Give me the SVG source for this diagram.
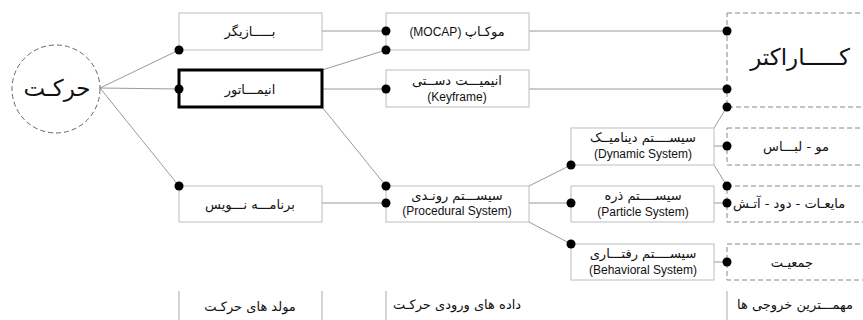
<svg xmlns="http://www.w3.org/2000/svg" width="863" height="320" viewBox="0 0 863 320">
<style>
.box{fill:#fff;stroke:#bdbdbd;stroke-width:1}
.thick{fill:#fff;stroke:#000;stroke-width:3}
.dash{fill:none;stroke:#888;stroke-width:1;stroke-dasharray:5,3}
.side{fill:none;stroke:#aaa;stroke-width:1}
.con{fill:none;stroke:#9a9a9a;stroke-width:1}
.dot{fill:#000}
text{font-family:"DejaVu Sans","Liberation Sans",sans-serif;fill:#111;text-anchor:middle}
.fa{font-size:13px}
.en{font-size:12px;font-family:"Liberation Sans",Arial,sans-serif}
.big{font-size:23px}
</style>
<rect width="863" height="320" fill="#fff"/>
<g id="connectors">
<line class="con" x1="100" y1="88" x2="179" y2="50"/>
<line class="con" x1="100" y1="88" x2="179" y2="89"/>
<line class="con" x1="100" y1="88" x2="179" y2="186"/>
<line class="con" x1="322" y1="31" x2="386" y2="31"/>
<line class="con" x1="322" y1="70" x2="386" y2="50"/>
<line class="con" x1="322" y1="89" x2="386" y2="89"/>
<line class="con" x1="322" y1="107" x2="386" y2="186"/>
<line class="con" x1="322" y1="203" x2="386" y2="203"/>
<line class="con" x1="529" y1="31" x2="727" y2="31"/>
<line class="con" x1="529" y1="89" x2="727" y2="89"/>
<line class="con" x1="529" y1="186" x2="571" y2="165"/>
<line class="con" x1="529" y1="203" x2="571" y2="203"/>
<line class="con" x1="529" y1="222" x2="571" y2="244"/>
<line class="con" x1="714" y1="128" x2="727" y2="107"/>
<line class="con" x1="714" y1="146" x2="727" y2="146"/>
<line class="con" x1="714" y1="165" x2="727" y2="186"/>
<line class="con" x1="714" y1="203" x2="727" y2="203"/>
<line class="con" x1="714" y1="262" x2="727" y2="262"/>
</g>
<g id="harekat">
<circle cx="56" cy="89" r="44" fill="#fff" stroke="#666" stroke-width="1" stroke-dasharray="5,3"/>
<text class="big" x="57" y="96">حرکـت</text>
</g>
<g id="bazigar">
<rect class="box" x="179" y="13" width="143" height="37"/>
<text class="fa" x="250" y="36">بـــــازیگر</text>
</g>
<g id="animator">
<rect class="thick" x="179" y="70" width="143" height="37"/>
<text class="fa" x="250" y="94">انیمـــاتور</text>
</g>
<g id="barnamenevis">
<rect class="box" x="179" y="186" width="143" height="36"/>
<text class="fa" x="250" y="209">برنامـــه نـــویس</text>
</g>
<g id="movaled">
<path class="side" d="M179 291V320M322 291V320"/>
<text class="fa" x="250" y="311">مولد های حرکـت</text>
</g>
<g id="mocap">
<rect class="box" x="386" y="13" width="143" height="37"/>
<text class="fa" x="457" y="36"><tspan class="en">(MOCAP) </tspan>موکـاپ</text>
</g>
<g id="keyframe">
<rect class="box" x="386" y="70" width="143" height="37"/>
<text class="fa" x="457" y="85">انیمیـــت دســتی</text>
<text class="en" x="457" y="101">(Keyframe)</text>
</g>
<g id="procedural">
<rect class="box" x="386" y="186" width="143" height="36"/>
<text class="fa" x="457" y="200">سیســـتم رونـدی</text>
<text class="en" x="457" y="215">(Procedural System)</text>
</g>
<g id="vorodi">
<path class="side" d="M386 291V320"/>
<text class="fa" x="457" y="309">داده های ورودی حرکـت</text>
</g>
<g id="dynamic">
<rect class="box" x="571" y="128" width="143" height="37"/>
<text class="fa" x="643" y="142">سیســــتم دینامیــک</text>
<text class="en" x="643" y="158">(Dynamic System)</text>
</g>
<g id="particle">
<rect class="box" x="571" y="186" width="143" height="36"/>
<text class="fa" x="643" y="200">سیســــتم ذره</text>
<text class="en" x="643" y="216">(Particle System)</text>
</g>
<g id="behavioral">
<rect class="box" x="571" y="244" width="143" height="36"/>
<text class="fa" x="643" y="258">سیســــتم رفتـــاری</text>
<text class="en" x="643" y="274">(Behavioral System)</text>
</g>
<g id="character">
<rect class="dash" x="727" y="13" width="160" height="94"/>
<text class="big" x="800" y="65">کـــــاراکتر</text>
</g>
<g id="mo-lebas">
<rect class="dash" x="727" y="128" width="160" height="37"/>
<text class="fa" x="796" y="151">مو - لبـــاس</text>
</g>
<g id="mayeat">
<rect class="dash" x="727" y="186" width="160" height="36"/>
<text class="fa" x="733" y="208" style="text-anchor:start">مایعـات - دود - آتـش</text>
</g>
<g id="jamiat">
<rect class="dash" x="727" y="244" width="160" height="36"/>
<text class="fa" x="792" y="267">جمعیـت</text>
</g>
<g id="khoruji">
<path class="side" d="M727 291V320"/>
<text class="fa" x="737" y="309" style="text-anchor:start">مهمـــترین خروجی ها</text>
</g>
<g id="dots">
<circle class="dot" cx="179" cy="50" r="4.5"/>
<circle class="dot" cx="179" cy="89" r="4.5"/>
<circle class="dot" cx="179" cy="186" r="4.5"/>
<circle class="dot" cx="386" cy="31" r="4.5"/>
<circle class="dot" cx="386" cy="50" r="4.5"/>
<circle class="dot" cx="386" cy="89" r="4.5"/>
<circle class="dot" cx="386" cy="186" r="4.5"/>
<circle class="dot" cx="386" cy="203" r="4.5"/>
<circle class="dot" cx="571" cy="165" r="4.5"/>
<circle class="dot" cx="571" cy="203" r="4.5"/>
<circle class="dot" cx="571" cy="244" r="4.5"/>
<circle class="dot" cx="727" cy="31" r="4.5"/>
<circle class="dot" cx="727" cy="89" r="4.5"/>
<circle class="dot" cx="727" cy="107" r="4.5"/>
<circle class="dot" cx="727" cy="146" r="4.5"/>
<circle class="dot" cx="727" cy="186" r="4.5"/>
<circle class="dot" cx="727" cy="203" r="4.5"/>
<circle class="dot" cx="727" cy="262" r="4.5"/>
</g>
</svg>
